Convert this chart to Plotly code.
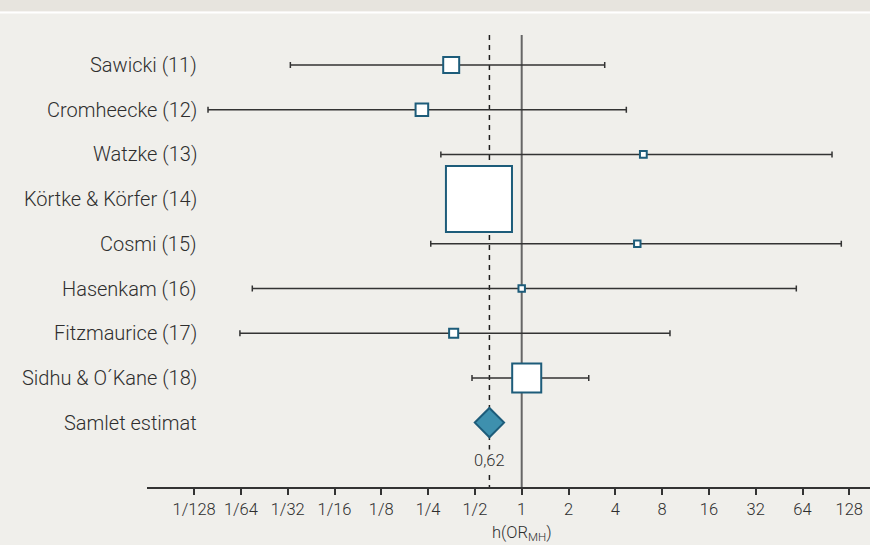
import math
import plotly.graph_objects as go

# ---- data ----
studies = ["Sawicki (11)", "Cromheecke (12)", "Watzke (13)", "Körtke & Körfer (14)",
           "Cosmi (15)", "Hasenkam (16)", "Fitzmaurice (17)", "Sidhu & O´Kane (18)"]
odds_ratio = [0.352, 0.228, 6.06, 0.531, 5.54, 1.00, 0.365, 1.077]
ci_low = [0.0325, 0.0096, 0.302, 0.36, 0.260, 0.0185, 0.0154, 0.479]
ci_high = [3.42, 4.71, 99.1, 0.80, 113.7, 58.4, 8.99, 2.70]
weights = [5.0, 3.3, 1.2, 71.6, 1.1, 1.1, 1.9, 14.9]   # relative study weight (%)
pooled_label = "Samlet estimat"
pooled_or = 0.62
pooled_text = "0,62"
tick_values = [1/128, 1/64, 1/32, 1/16, 1/8, 1/4, 1/2, 1, 2, 4, 8, 16, 32, 64, 128]
tick_labels = ["1/128", "1/64", "1/32", "1/16", "1/8", "1/4", "1/2", "1",
               "2", "4", "8", "16", "32", "64", "128"]
axis_title = "h(OR<sub>MH</sub>)"

# ---- style ----
W, H = 870, 545
BG = "#f0efeb"
BAND = "#e7e4de"
TXT = "#2e2e2e"
EDGE = "#1d5c7a"
FILL_D = "#3e90ae"
FONT = "Roboto"

n = len(studies)
rows = list(range(n))
pooled_row = n

# y axis mapping: row 0 at px 65, spacing 44.7 px; domain px 35..487
top_px, bot_px = 35, 487
row0_px, step = 65, 44.7
y_top = (top_px - row0_px) / step
y_bot = (bot_px - row0_px) / step

# x axis: px = 521.7 + 46.8*log2(v); domain px 147..870
x_left = (147 - 521.7) / 46.8 * math.log10(2)
x_right = (870 - 521.7) / 46.8 * math.log10(2)

fig = go.Figure()

# reference lines
fig.add_trace(go.Scatter(x=[1, 1], y=[y_top, y_bot], mode="lines",
                         line=dict(color="#666666", width=2), hoverinfo="skip",
                         showlegend=False))
fig.add_trace(go.Scatter(x=[pooled_or, pooled_or], y=[y_top, y_bot], mode="lines",
                         line=dict(color="#1e1e1e", width=1.5, dash="5px,5px"),
                         hoverinfo="skip", showlegend=False))

# study squares with CI
sizes = [8.04 * math.sqrt(w) - 2 for w in weights]
fig.add_trace(go.Scatter(
    x=odds_ratio, y=rows, mode="markers",
    marker=dict(symbol="square", size=sizes, color="white", opacity=1,
                line=dict(color=EDGE, width=2)),
    error_x=dict(type="data", symmetric=False,
                 array=[h - o for h, o in zip(ci_high, odds_ratio)],
                 arrayminus=[o - l for o, l in zip(odds_ratio, ci_low)],
                 color="#333333", thickness=1.5, width=3),
    showlegend=False, cliponaxis=False))

# pooled diamond
fig.add_trace(go.Scatter(
    x=[pooled_or], y=[pooled_row], mode="markers",
    marker=dict(symbol="diamond", size=22.5, color=FILL_D, opacity=1,
                line=dict(color=EDGE, width=2)),
    showlegend=False, cliponaxis=False))

annotations = []
for r, s in zip(rows + [pooled_row], studies + [pooled_label]):
    annotations.append(dict(x=199 / W, xref="paper", y=r, yref="y", text=s,
                            xanchor="right", yanchor="middle", showarrow=False,
                            font=dict(size=20, color=TXT, family=FONT, weight=300)))
annotations.append(dict(x=math.log10(pooled_or), xref="x", y=(H - 460) / H, yref="paper",
                        text=pooled_text, showarrow=False, xanchor="center",
                        yanchor="middle", bgcolor=BG, borderpad=1,
                        font=dict(size=16.5, color=TXT, family=FONT, weight=300)))
annotations.append(dict(x=0, xref="x", y=(H - 533) / H, yref="paper",
                        text=axis_title, showarrow=False, xanchor="center",
                        yanchor="middle",
                        font=dict(size=16.5, color=TXT, family=FONT, weight=300)))

shapes = [
    dict(type="rect", xref="paper", yref="paper", x0=0, x1=1,
         y0=(H - 11.5) / H, y1=1, fillcolor=BAND, line=dict(width=0), layer="below"),
    dict(type="rect", xref="paper", yref="paper", x0=0, x1=1,
         y0=(H - 13.5) / H, y1=(H - 11.5) / H, fillcolor="white",
         line=dict(width=0), layer="below"),
]

fig.update_layout(
    width=W, height=H, margin=dict(l=0, r=0, t=0, b=0),
    paper_bgcolor=BG, plot_bgcolor=BG,
    font=dict(family=FONT, color=TXT),
    annotations=annotations, shapes=shapes,
    xaxis=dict(type="log", range=[x_left, x_right], domain=[147 / W, 1],
               tickvals=tick_values, ticktext=tick_labels,
               ticks="outside", ticklen=6, tickwidth=1.5, tickcolor="#333333",
               showline=True, linecolor="#333333", linewidth=1.5,
               showgrid=False, zeroline=False,
               tickfont=dict(size=16.5, color=TXT, family=FONT, weight=300)),
    yaxis=dict(range=[y_bot, y_top], domain=[(H - bot_px) / H, (H - top_px) / H],
               showticklabels=False, showgrid=False, zeroline=False,
               showline=False, ticks=""),
)

fig.write_html("out.html", config={"displayModeBar": False},
               post_script="document.body.style.margin='0px';"
                           "document.body.style.overflow='hidden';")
